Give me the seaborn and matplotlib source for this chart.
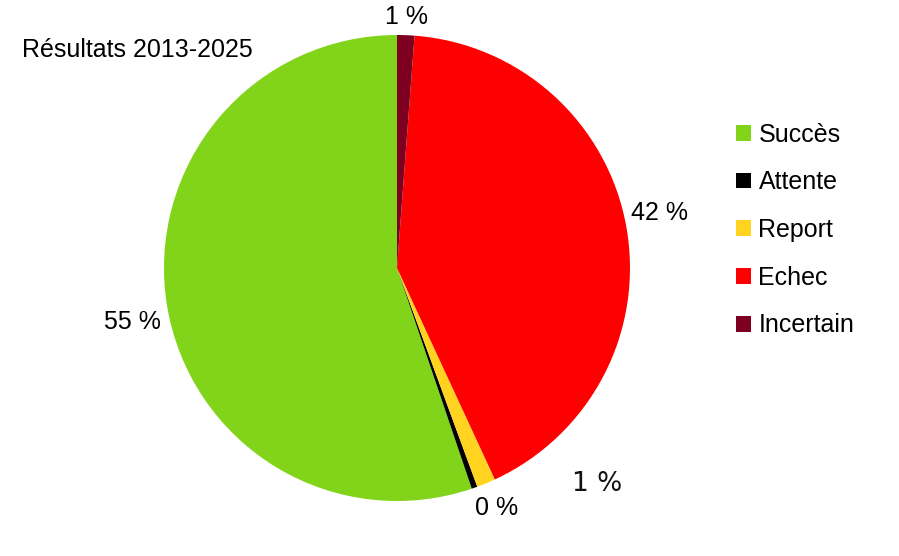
import numpy as np
import matplotlib
matplotlib.use("Agg")
import matplotlib.pyplot as plt
from matplotlib.patches import Patch
import seaborn as sns

categories = ["Succès", "Attente", "Report", "Echec", "Incertain"]
values = [55.2, 0.4, 1.3, 41.9, 1.2]
labels = ["55 %", "0 %", "1 %", "42 %", "1 %"]
colors = ["#81D41A", "#000000", "#FFD320", "#FF0000", "#7E0021"]
title = "Résultats 2013-2025"

sns.set_theme(style="white")
plt.rcParams["font.family"] = ["Liberation Sans", "DejaVu Sans"]
plt.rcParams["text.color"] = "black"

W, H = 899, 556
fig = plt.figure(figsize=(W / 100, H / 100), dpi=100)
cx, cy, r = 397, 268, 233
ax = fig.add_axes([(cx - r) / W, (H - cy - r) / H, 2 * r / W, 2 * r / H])

wedges, _ = ax.pie(values, colors=colors, startangle=90, counterclock=True,
                   radius=1, wedgeprops=dict(linewidth=0))
ax.set_xlim(-1, 1)
ax.set_ylim(-1, 1)
ax.set_aspect("equal")
ax.axis("off")

# label placement: distance from centre (radii) and angle shift from slice middle
dist = [1.157, 1.115, 1.264, 1.153, 1.077]
shift = [2.2, 3.0, 20.3, 1.6, 0.0]
for i, (w, lab) in enumerate(zip(wedges, labels)):
    ang = np.deg2rad((w.theta1 + w.theta2) / 2 + shift[i])
    x, y = dist[i] * np.cos(ang), dist[i] * np.sin(ang)
    if i == 2:
        ax.text(x, y, lab, ha="center", va="center", fontsize=19,
                family="DejaVu Sans", color="#111111", clip_on=False)
    else:
        ax.text(x, y, lab, ha="center", va="center", fontsize=18, clip_on=False)

fig.text(22 / W, 1 - 50 / H, title, ha="left", va="center", fontsize=18)

handles = [Patch(facecolor=c, edgecolor="none") for c in colors]
fig.legend(handles, categories, loc="center left", bbox_to_anchor=(736 / W, 1 - 230 / H),
           frameon=False, fontsize=18, handlelength=0.6, handleheight=0.6,
           handletextpad=0.3, labelspacing=0.95, borderpad=0, borderaxespad=0)

fig.savefig("out.png", dpi=100)
